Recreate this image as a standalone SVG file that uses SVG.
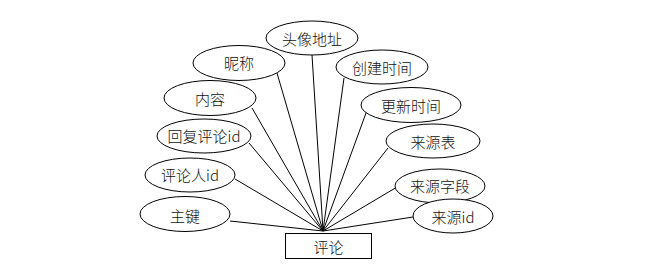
<svg xmlns="http://www.w3.org/2000/svg" width="660" height="265" viewBox="0 0 660 265">
<style>
.n ellipse, .n rect { fill: #fff; stroke: #000; stroke-width: 1; }
.n text { font-family: "Noto Sans CJK SC", "Liberation Sans", sans-serif; font-size: 15px; font-weight: 300; fill: #111; text-anchor: middle; dominant-baseline: central; }
#edges line { stroke: #000; stroke-width: 1; }
</style>
<rect width="660" height="265" fill="#fff"/>
<g id="edges">
<line x1="230" y1="221" x2="323" y2="231"/>
<line x1="235" y1="179" x2="323" y2="231"/>
<line x1="249" y1="143" x2="323" y2="231"/>
<line x1="252" y1="108" x2="323" y2="231"/>
<line x1="277" y1="73" x2="323" y2="231"/>
<line x1="312" y1="55" x2="323" y2="231"/>
<line x1="344" y1="78" x2="323" y2="231"/>
<line x1="366" y1="113" x2="323" y2="231"/>
<line x1="388" y1="148" x2="323" y2="231"/>
<line x1="397" y1="187" x2="323" y2="231"/>
<line x1="413" y1="217" x2="323" y2="231"/>
</g>
<g id="entity" class="n"><rect x="285.5" y="233.5" width="86" height="25"/><text x="328.5" y="246">评论</text></g>
<g id="a-zhujian" class="n"><ellipse cx="185" cy="214" rx="45" ry="17.5"/><text x="185" y="215">主键</text></g>
<g id="a-pinglunrenid" class="n"><ellipse cx="190" cy="175" rx="45" ry="17"/><text x="190" y="174">评论人id</text></g>
<g id="a-huifupinglunid" class="n"><ellipse cx="204" cy="136" rx="47" ry="17"/><text x="204" y="135">回复评论id</text></g>
<g id="a-neirong" class="n"><ellipse cx="210" cy="98" rx="46" ry="17.5"/><text x="210" y="98">内容</text></g>
<g id="a-nicheng" class="n"><ellipse cx="239" cy="63" rx="46" ry="17.5"/><text x="239" y="62">昵称</text></g>
<g id="a-touxiangdizhi" class="n"><ellipse cx="312" cy="38" rx="46" ry="17"/><text x="312" y="38">头像地址</text></g>
<g id="a-chuangjianshijian" class="n"><ellipse cx="382" cy="67" rx="46" ry="17"/><text x="382" y="67">创建时间</text></g>
<g id="a-gengxinshijian" class="n"><ellipse cx="411" cy="105" rx="50" ry="17.5"/><text x="411" y="105">更新时间</text></g>
<g id="a-laiyuanbiao" class="n"><ellipse cx="433" cy="141" rx="47" ry="17"/><text x="433" y="141">来源表</text></g>
<g id="a-laiyuanziduan" class="n"><ellipse cx="440" cy="186" rx="45" ry="17"/><text x="440" y="185">来源字段</text></g>
<g id="a-laiyuanid" class="n"><ellipse cx="453" cy="216" rx="40" ry="17"/><text x="453" y="216">来源id</text></g>
</svg>
